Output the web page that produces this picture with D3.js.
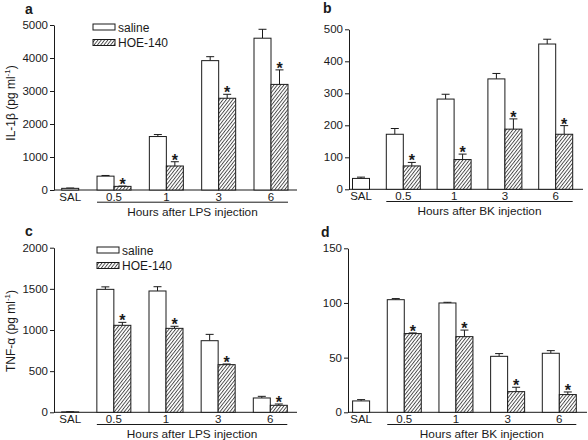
<!DOCTYPE html>
<html>
<head>
<meta charset="utf-8">
<script src="https://cdn.jsdelivr.net/npm/d3@7"></script>
<style>
  html, body { margin: 0; padding: 0; background: #fff; }
  svg { display: block; font-family: "Liberation Sans", Arial, Helvetica, sans-serif; }
</style>
</head>
<body>
<svg id="chart" width="588" height="440"></svg>
<script>
// ---------- data ----------
const categories = ["SAL", "0.5", "1", "3", "6"];
const groups = ["0.5", "1", "3", "6"];
const seriesNames = ["saline", "HOE-140"];

// a: IL-1β after LPS (SAL first, then saline at 0.5,1,3,6 h)
const il1bLpsSaline    = [50, 420, 1620, 3920, 4600];
const il1bLpsSalineErr = [10, 20, 60, 120, 270];
const il1bLpsHoe       = [110, 727, 2780, 3200];
const il1bLpsHoeErr    = [10, 130, 120, 440];

// b: IL-1β after BK
const il1bBkSaline    = [34, 172, 282, 345, 454];
const il1bBkSalineErr = [4, 18, 15, 17, 15];
const il1bBkHoe       = [73, 93, 188, 172];
const il1bBkHoeErr    = [11, 17, 32, 27];

// c: TNF-α after LPS
const tnfLpsSaline    = [5, 1494, 1474, 870, 174];
const tnfLpsSalineErr = [3, 30, 52, 77, 20];
const tnfLpsHoe       = [1057, 1020, 579, 85];
const tnfLpsHoeErr    = [36, 25, 8, 16];

// d: TNF-α after BK
const tnfBkSaline    = [10.4, 103, 100, 51.2, 54];
const tnfBkSalineErr = [1.2, 1, 0.6, 2.5, 2.4];
const tnfBkHoe       = [72, 69.2, 18.9, 16.2];
const tnfBkHoeErr    = [0.6, 6, 4, 2.4];

const yTicksA = [0, 1000, 2000, 3000, 4000, 5000];
const yTicksB = [0, 100, 200, 300, 400, 500];
const yTicksC = [0, 500, 1000, 1500, 2000];
const yTicksD = [0, 50, 100, 150];

// ---------- layout ----------
const panels = [
  { letter: "a", sal: il1bLpsSaline, salErr: il1bLpsSalineErr, hoe: il1bLpsHoe, hoeErr: il1bLpsHoeErr,
    ticks: yTicksA, ylabel: "IL-1β", xtitle: "Hours after LPS injection", legend: true,
    axisX: 54, top: 25, bottom: 190, x0: 61.7, x1: 271, baseEnd: 297, letterX: 25, letterY: 13.5,
    legX: 93, legY: 24, ylabX: 15, ylabY: 103 },
  { letter: "b", sal: il1bBkSaline, salErr: il1bBkSalineErr, hoe: il1bBkHoe, hoeErr: il1bBkHoeErr,
    ticks: yTicksB, ylabel: null, xtitle: "Hours after BK injection", legend: false,
    axisX: 349, top: 29.3, bottom: 189.3, x0: 352.5, x1: 555.7, baseEnd: 583, letterX: 323, letterY: 12.8 },
  { letter: "c", sal: tnfLpsSaline, salErr: tnfLpsSalineErr, hoe: tnfLpsHoe, hoeErr: tnfLpsHoeErr,
    ticks: yTicksC, ylabel: "TNF-α", xtitle: "Hours after LPS injection", legend: true,
    axisX: 54, top: 247.7, bottom: 412.3, x0: 61.7, x1: 270.3, baseEnd: 297, letterX: 25, letterY: 236,
    legX: 97, legY: 247, ylabX: 15, ylabY: 331 },
  { letter: "d", sal: tnfBkSaline, salErr: tnfBkSalineErr, hoe: tnfBkHoe, hoeErr: tnfBkHoeErr,
    ticks: yTicksD, ylabel: null, xtitle: "Hours after BK injection", legend: false,
    axisX: 348, top: 248.3, bottom: 412.3, x0: 352.6, x1: 559.3, baseEnd: 587, letterX: 321, letterY: 237 }
];

const ink = "#1a1a1a";
const barW = 17;
const svg = d3.select("#chart");

// hatch pattern
const defs = svg.append("defs");
const pat = defs.append("pattern")
  .attr("id", "hatch").attr("patternUnits", "userSpaceOnUse")
  .attr("width", 2.6).attr("height", 10)
  .attr("patternTransform", "rotate(38)");
pat.append("rect").attr("width", 2.6).attr("height", 10).attr("fill", "#fff");
pat.append("line").attr("x1", 0.5).attr("y1", 0).attr("x2", 0.5).attr("y2", 10)
  .attr("stroke", "#2a2a2a").attr("stroke-width", 0.85);

panels.forEach(p => {
  const g = svg.append("g");
  const y = d3.scaleLinear().domain([p.ticks[0], p.ticks[p.ticks.length - 1]]).range([p.bottom, p.top]);
  const x = d3.scalePoint().domain(categories).range([p.x0, p.x1]);

  // y axis
  const yAxis = d3.axisLeft(y).tickValues(p.ticks).tickFormat(d3.format("d"))
    .tickSize(4).tickSizeOuter(0).tickPadding(2);
  const ag = g.append("g").attr("transform", `translate(${p.axisX},0)`).call(yAxis);
  ag.select(".domain").attr("stroke", ink);
  ag.selectAll(".tick line").attr("stroke", ink);
  ag.selectAll(".tick text").attr("fill", ink).attr("font-size", 11.5)
    .attr("font-family", "'Liberation Sans', Arial, sans-serif");

  // baseline
  g.append("line").attr("x1", p.axisX).attr("x2", p.baseEnd)
    .attr("y1", y(0)).attr("y2", y(0)).attr("stroke", ink);

  // bars: SAL (single) + saline groups
  const salData = p.sal.map((v, i) => ({ cat: categories[i], v, e: p.salErr[i] }));
  const hoeData = p.hoe.map((v, i) => ({ cat: groups[i], v, e: p.hoeErr[i] }));
  const salX = d => d.cat === "SAL" ? x(d.cat) : x(d.cat) - barW;
  const hoeX = d => x(d.cat);

  const drawSet = (data, xf, fill) => {
    g.selectAll(null).data(data).enter().append("line")
      .attr("x1", d => xf(d) + barW / 2).attr("x2", d => xf(d) + barW / 2)
      .attr("y1", d => y(d.v)).attr("y2", d => y(d.v + d.e))
      .attr("stroke", ink).attr("stroke-width", 1);
    g.selectAll(null).data(data).enter().append("line")
      .attr("x1", d => xf(d) + barW / 2 - 4).attr("x2", d => xf(d) + barW / 2 + 4)
      .attr("y1", d => y(d.v + d.e)).attr("y2", d => y(d.v + d.e))
      .attr("stroke", ink).attr("stroke-width", 1);
    g.selectAll(null).data(data).enter().append("rect")
      .attr("x", d => xf(d)).attr("width", barW)
      .attr("y", d => y(d.v)).attr("height", d => y(0) - y(d.v))
      .attr("fill", fill).attr("stroke", ink).attr("stroke-width", 1);
  };
  drawSet(salData, salX, "#fff");
  drawSet(hoeData, hoeX, "url(#hatch)");

  // asterisks
  g.selectAll(null).data(hoeData).enter().append("text")
    .attr("x", d => hoeX(d) + barW / 2).attr("y", d => y(d.v + d.e) + 4)
    .attr("text-anchor", "middle").attr("font-size", 16).attr("font-weight", "bold")
    .attr("fill", ink).text("*");

  // x category labels
  g.selectAll(null).data(categories).enter().append("text")
    .attr("x", c => c === "SAL" ? x(c) + barW / 2 : x(c))
    .attr("y", y(0) + 10.5)
    .attr("text-anchor", "middle").attr("font-size", 11.5).attr("fill", ink)
    .text(c => c);

  // underline over time groups
  const uL = x(groups[0]) - barW, uR = x(groups[groups.length - 1]) + barW;
  g.append("line").attr("x1", uL).attr("x2", uR)
    .attr("y1", y(0) + 12.2).attr("y2", y(0) + 12.2).attr("stroke", ink);
  g.append("text").attr("x", (uL + uR) / 2).attr("y", y(0) + 25.5)
    .attr("text-anchor", "middle").attr("font-size", 11.8).attr("fill", ink)
    .text(p.xtitle);

  // panel letter
  g.append("text").attr("x", p.letterX).attr("y", p.letterY)
    .attr("font-size", 14).attr("font-weight", "bold").attr("fill", ink).text(p.letter);

  // y label
  if (p.ylabel) {
    const t = g.append("text")
      .attr("transform", `translate(${p.ylabX},${p.ylabY}) rotate(-90)`)
      .attr("text-anchor", "middle").attr("font-size", 12).attr("fill", ink);
    t.append("tspan").text(p.ylabel + " (pg ml");
    t.append("tspan").attr("font-size", 8).attr("dy", -5).text("-1");
    t.append("tspan").attr("dy", 5).text(")");
  }

  // legend
  if (p.legend) {
    seriesNames.forEach((s, i) => {
      const ly = p.legY + i * 15.5;
      g.append("rect").attr("x", p.legX).attr("y", ly).attr("width", 22).attr("height", 6)
        .attr("fill", i === 0 ? "#fff" : "url(#hatch)").attr("stroke", ink);
      g.append("text").attr("x", p.legX + 25).attr("y", ly + 7.5)
        .attr("font-size", 12).attr("fill", ink).text(s);
    });
  }
});
</script>
</body>
</html>
